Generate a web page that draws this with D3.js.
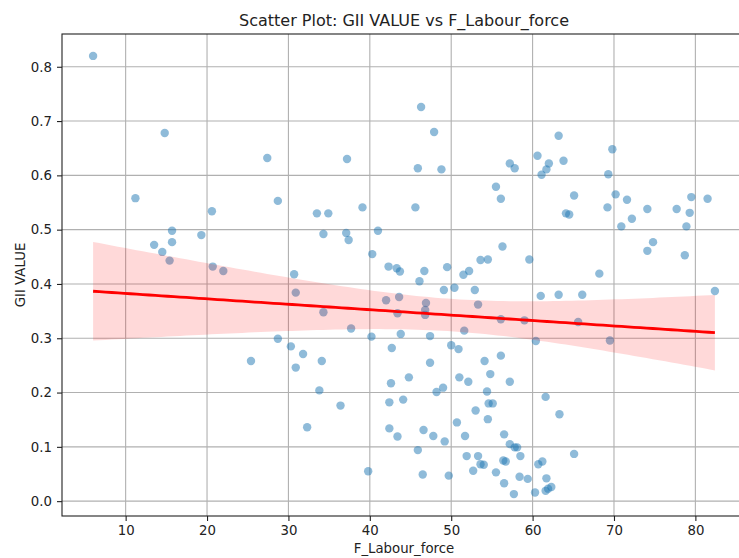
<!DOCTYPE html>
<html>
<head>
<meta charset="utf-8">
<script src="https://cdn.jsdelivr.net/npm/d3@7"></script>
<style>
  body { margin: 0; background: #fff; }
  svg { display: block; font-family: "DejaVu Sans", sans-serif; }
</style>
</head>
<body>
<svg id="chart" width="739" height="558"></svg>
<script>
// values
const labourForce = [
  6.0, 14.8, 27.4, 11.2, 28.7, 20.6, 15.7, 19.3, 13.5, 15.7, 14.5, 15.4, 20.7, 22.0, 30.7,
  46.3, 47.9, 37.2, 45.9, 48.8, 33.5, 34.9, 39.1, 45.6, 34.3, 37.1, 37.4, 41.0, 40.3, 42.3,
  43.3, 43.7, 46.7, 49.5, 63.2, 60.6, 63.8, 57.2, 57.8, 62.0, 61.7, 61.1, 55.5, 56.1, 65.1,
  64.1, 64.5, 56.3, 53.6, 54.5, 59.6, 52.2, 51.5, 68.2, 69.8, 69.3, 70.2, 71.6, 69.2, 74.1,
  72.2, 70.9, 77.7, 79.5, 79.3, 78.9, 81.5, 74.8, 74.1, 78.7,
  30.9, 34.3, 37.7, 40.2, 28.7, 30.3, 31.8, 25.4, 34.1, 30.9, 33.8, 36.4, 32.3, 39.8,
  46.1, 49.1, 50.4, 42.0, 43.6, 46.9, 43.4, 46.8, 46.8, 43.8, 47.4, 50.0, 50.9, 42.7, 47.4,
  44.8, 42.6, 51.0, 49.0, 48.2, 42.4, 44.1, 50.7, 42.4, 43.4, 46.6, 47.8, 49.2, 45.9, 46.5,
  49.7,
  52.9, 61.0, 63.2, 53.3, 56.1, 59.0, 51.6, 60.4, 56.1, 54.1, 54.8, 52.1, 57.2, 54.4, 54.6,
  55.1, 53.0, 54.5, 61.6, 51.7, 56.5, 57.2, 57.8, 58.1, 58.5, 51.9, 53.3, 53.6, 54.0, 52.7,
  56.4, 56.7, 55.5, 56.5, 58.4, 59.4, 57.7, 60.3, 60.7, 61.2, 61.7, 61.6, 61.9, 62.3,
  66.1, 82.4, 65.6, 69.5, 63.3, 65.1
];
const giiValue = [
  0.820, 0.678, 0.632, 0.558, 0.553, 0.534, 0.498, 0.490, 0.472, 0.477, 0.459, 0.443, 0.432, 0.424, 0.418,
  0.726, 0.680, 0.630, 0.613, 0.611, 0.530, 0.530, 0.541, 0.541, 0.492, 0.494, 0.481, 0.498, 0.455, 0.432,
  0.429, 0.423, 0.424, 0.431, 0.673, 0.636, 0.627, 0.622, 0.613, 0.622, 0.611, 0.601, 0.579, 0.557, 0.563,
  0.530, 0.528, 0.469, 0.444, 0.445, 0.445, 0.424, 0.417, 0.419, 0.648, 0.602, 0.565, 0.555, 0.541, 0.538,
  0.520, 0.506, 0.538, 0.560, 0.531, 0.506, 0.557, 0.477, 0.461, 0.453,
  0.384, 0.348, 0.318, 0.303, 0.299, 0.285, 0.271, 0.258, 0.258, 0.246, 0.204, 0.176, 0.136, 0.055,
  0.405, 0.389, 0.393, 0.370, 0.376, 0.365, 0.346, 0.352, 0.343, 0.308, 0.304, 0.287, 0.280, 0.282, 0.255,
  0.228, 0.217, 0.228, 0.209, 0.201, 0.182, 0.187, 0.145, 0.134, 0.119, 0.131, 0.120, 0.110, 0.094, 0.049,
  0.047,
  0.389, 0.378, 0.380, 0.362, 0.335, 0.333, 0.314, 0.295, 0.268, 0.258, 0.234, 0.220, 0.220, 0.202, 0.180,
  0.180, 0.167, 0.151, 0.192, 0.120, 0.123, 0.105, 0.099, 0.099, 0.083, 0.083, 0.083, 0.068, 0.067, 0.056,
  0.075, 0.073, 0.053, 0.033, 0.045, 0.041, 0.013, 0.016, 0.068, 0.073, 0.042, 0.019, 0.023, 0.026,
  0.380, 0.387, 0.330, 0.296, 0.160, 0.087
];
const xTicks = [10, 20, 30, 40, 50, 60, 70, 80];
const yTicks = [0.0, 0.1, 0.2, 0.3, 0.4, 0.5, 0.6, 0.7, 0.8];

const width = 739, height = 558;
const margin = { top: 34, right: -7, bottom: 42, left: 62 };
const innerWidth = width - margin.left - margin.right,
  innerHeight = height - margin.top - margin.bottom;

const points = labourForce.map((x, i) => ({ x: x, y: giiValue[i] }));

// matplotlib-like 5% margins
function padded(ext) {
  const m = (ext[1] - ext[0]) * 0.05;
  return [ext[0] - m, ext[1] + m];
}
const x = d3.scaleLinear().domain(padded(d3.extent(labourForce))).range([0, innerWidth]);
const y = d3.scaleLinear().domain(padded(d3.extent(giiValue))).range([innerHeight, 0]);

// least squares fit + 95% confidence band
const n = points.length;
const xbar = d3.mean(labourForce), ybar = d3.mean(giiValue);
const sxx = d3.sum(labourForce, (v) => (v - xbar) ** 2);
const sxy = d3.sum(points, (p) => (p.x - xbar) * (p.y - ybar));
const slope = sxy / sxx, intercept = ybar - slope * xbar;
const s = Math.sqrt(d3.sum(points, (p) => (p.y - intercept - slope * p.x) ** 2) / (n - 2));
const t = 1.975;
const [xmin, xmax] = d3.extent(labourForce);
const fit = d3.range(0, 101).map((i) => {
  const xv = xmin + (xmax - xmin) * i / 100;
  const yhat = intercept + slope * xv;
  const h = t * s * Math.sqrt(1 / n + (xv - xbar) ** 2 / sxx);
  return { x: xv, y: yhat, lo: yhat - h, hi: yhat + h };
});
console.log(slope, intercept);

const svg = d3.select("#chart");
const g = svg.append("g").attr("transform", `translate(${margin.left}, ${margin.top})`);

// grid
g.append("g").selectAll("line").data(xTicks).join("line")
  .attr("x1", (d) => x(d)).attr("x2", (d) => x(d))
  .attr("y1", 0).attr("y2", innerHeight)
  .attr("stroke", "#b0b0b0").attr("stroke-width", 1.1);
g.append("g").selectAll("line").data(yTicks).join("line")
  .attr("x1", 0).attr("x2", innerWidth)
  .attr("y1", (d) => y(d)).attr("y2", (d) => y(d))
  .attr("stroke", "#b0b0b0").attr("stroke-width", 1.1);

// scatter
g.append("g").selectAll("circle").data(points).join("circle")
  .attr("cx", (d) => x(d.x)).attr("cy", (d) => y(d.y))
  .attr("r", 4.2)
  .attr("fill", "#1f77b4").attr("fill-opacity", 0.5);

// band and line
g.append("path").datum(fit)
  .attr("d", d3.area().x((d) => x(d.x)).y0((d) => y(d.lo)).y1((d) => y(d.hi)))
  .attr("fill", "red").attr("fill-opacity", 0.15);
g.append("path").datum(fit)
  .attr("d", d3.line().x((d) => x(d.x)).y((d) => y(d.y)))
  .attr("fill", "none").attr("stroke", "red").attr("stroke-width", 2.8);

// axes
const xAxis = g.append("g")
  .attr("transform", `translate(0, ${innerHeight})`)
  .call(d3.axisBottom(x).tickValues(xTicks).tickFormat(d3.format("d")).tickSize(5).tickPadding(5));
const yAxis = g.append("g")
  .call(d3.axisLeft(y).tickValues(yTicks).tickFormat(d3.format(".1f")).tickSize(5).tickPadding(5));
[xAxis, yAxis].forEach((a) => {
  a.select(".domain").remove();
  a.selectAll("line").attr("stroke", "#222").attr("stroke-width", 1.1);
  a.selectAll("text").attr("fill", "#222").style("font-size", "13.3px")
    .style("font-family", "'DejaVu Sans', sans-serif");
});

// spines
g.append("rect")
  .attr("x", 0).attr("y", 0).attr("width", innerWidth).attr("height", innerHeight)
  .attr("fill", "none").attr("stroke", "#222").attr("stroke-width", 1.1);

// titles
svg.append("text")
  .attr("x", margin.left + innerWidth / 2).attr("y", 26)
  .attr("text-anchor", "middle").attr("fill", "#222")
  .style("font-size", "16px")
  .text("Scatter Plot: GII VALUE vs F_Labour_force");
svg.append("text")
  .attr("x", margin.left + innerWidth / 2).attr("y", 553)
  .attr("text-anchor", "middle").attr("fill", "#222")
  .style("font-size", "13.3px")
  .text("F_Labour_force");
svg.append("text")
  .attr("transform", `translate(25, ${margin.top + innerHeight / 2}) rotate(-90)`)
  .attr("text-anchor", "middle").attr("fill", "#222")
  .style("font-size", "13.3px")
  .text("GII VALUE");
</script>
</body>
</html>
